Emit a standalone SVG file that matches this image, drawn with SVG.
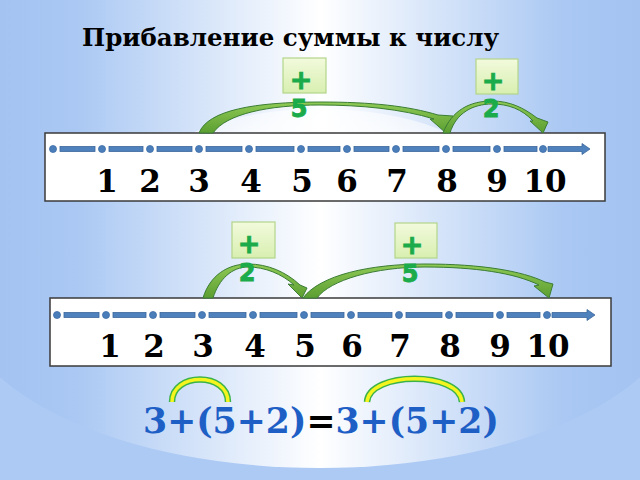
<svg xmlns="http://www.w3.org/2000/svg" width="640" height="480" viewBox="0 0 640 480">
<defs>
<linearGradient id="bg" gradientUnits="userSpaceOnUse" x1="0" y1="0" x2="640" y2="0">
<stop offset="0" stop-color="#a4c3f1"/>
<stop offset="0.12" stop-color="#aac8f3"/>
<stop offset="0.5" stop-color="#ffffff"/>
<stop offset="0.88" stop-color="#aac8f3"/>
<stop offset="1" stop-color="#a4c3f1"/>
</linearGradient>
<radialGradient id="sheen" cx="0.5" cy="0.5" r="0.5">
<stop offset="0" stop-color="#ffffff" stop-opacity="0.95"/>
<stop offset="0.8" stop-color="#ffffff" stop-opacity="0.7"/>
<stop offset="1" stop-color="#ffffff" stop-opacity="0.55"/>
</radialGradient>
<clipPath id="topclip"><rect x="0" y="0" width="640" height="134"/></clipPath>
<clipPath id="botclip"><rect x="0" y="330" width="640" height="150"/></clipPath>
<linearGradient id="arrowFill" x1="0" y1="0" x2="0" y2="1">
<stop offset="0" stop-color="#8fca55"/>
<stop offset="1" stop-color="#5c9e32"/>
</linearGradient>
<linearGradient id="badgeFill" x1="0" y1="0" x2="0" y2="1">
<stop offset="0" stop-color="#f2fadc"/>
<stop offset="1" stop-color="#d8efb0"/>
</linearGradient>
</defs>
<style>
.box{fill:#ffffff;stroke:#3a3a3a;stroke-width:1.5}
.dot{fill:#4a7ebb;stroke:#3d6ca6;stroke-width:0.8}
.bar{fill:#4f81bd;stroke:#3b679c;stroke-width:0.8}
.num{font-family:"DejaVu Serif","Liberation Serif",serif;font-weight:bold;font-size:31px;fill:#000;text-anchor:middle}
.title{font-family:"DejaVu Serif","Liberation Serif",serif;font-weight:bold;font-size:24.5px;fill:#000}
.badge{fill:url(#badgeFill);stroke:#b3d58a;stroke-width:1.2}
.blbl{font-family:"DejaVu Sans","Liberation Sans",sans-serif;font-weight:bold;font-size:24px;fill:#1bab4a;stroke:#1bab4a;stroke-width:0.9;text-anchor:middle}
.pl{font-size:27px}
.arc{fill:url(#arrowFill);stroke:#3b7d34;stroke-width:1;stroke-linejoin:round}
.yo{fill:none;stroke:#3bb34a;stroke-width:6.5}
.yi{fill:none;stroke:#f4f41e;stroke-width:3.5}
.f{font-family:"DejaVu Serif","Liberation Serif",serif;font-weight:bold;font-size:34.7px}
</style>
<g id="background">
<rect x="0" y="0" width="640" height="480" fill="url(#bg)"/>
<rect x="0" y="378" width="640" height="102" fill="#adcaf5"/>
<ellipse cx="320" cy="300" rx="360" ry="168" fill="url(#bg)" clip-path="url(#botclip)"/>
<ellipse cx="320" cy="175" rx="165" ry="66" fill="url(#sheen)" clip-path="url(#topclip)"/>
</g>
<g id="title">
<text class="title" x="82" y="46">Прибавление суммы к числу</text>
</g>
<g id="numberline-top">
<rect class="box" x="45" y="133" width="560" height="68"/>
<rect class="bar" x="60" y="146.5" width="35" height="5"/>
<rect class="bar" x="109" y="146.5" width="34" height="5"/>
<rect class="bar" x="157" y="146.5" width="35" height="5"/>
<rect class="bar" x="206" y="146.5" width="36" height="5"/>
<rect class="bar" x="256" y="146.5" width="38" height="5"/>
<rect class="bar" x="308" y="146.5" width="32" height="5"/>
<rect class="bar" x="354" y="146.5" width="35" height="5"/>
<rect class="bar" x="403" y="146.5" width="36" height="5"/>
<rect class="bar" x="453" y="146.5" width="37" height="5"/>
<rect class="bar" x="504" y="146.5" width="33" height="5"/>
<path class="bar" d="M548,146.5 H582 V143.5 L590,149 L582,154.5 V151.5 H548 Z"/>
<circle class="dot" cx="53" cy="149" r="3.5"/>
<circle class="dot" cx="102" cy="149" r="3.5"/>
<circle class="dot" cx="150" cy="149" r="3.5"/>
<circle class="dot" cx="199" cy="149" r="3.5"/>
<circle class="dot" cx="249" cy="149" r="3.5"/>
<circle class="dot" cx="301" cy="149" r="3.5"/>
<circle class="dot" cx="347" cy="149" r="3.5"/>
<circle class="dot" cx="396" cy="149" r="3.5"/>
<circle class="dot" cx="446" cy="149" r="3.5"/>
<circle class="dot" cx="497" cy="149" r="3.5"/>
<circle class="dot" cx="543" cy="149" r="3.5"/>
<text class="num" x="107" y="192">1</text>
<text class="num" x="150" y="192">2</text>
<text class="num" x="199" y="192">3</text>
<text class="num" x="251" y="192">4</text>
<text class="num" x="302" y="192">5</text>
<text class="num" x="347" y="192">6</text>
<text class="num" x="397" y="192">7</text>
<text class="num" x="447" y="192">8</text>
<text class="num" x="497" y="192">9</text>
<text class="num" x="545" y="192">10</text>
</g>
<g id="numberline-bottom">
<rect class="box" x="50" y="298" width="561" height="68"/>
<rect class="bar" x="64" y="312.5" width="35" height="5"/>
<rect class="bar" x="113" y="312.5" width="33" height="5"/>
<rect class="bar" x="160" y="312.5" width="35" height="5"/>
<rect class="bar" x="209" y="312.5" width="37" height="5"/>
<rect class="bar" x="260" y="312.5" width="37" height="5"/>
<rect class="bar" x="311" y="312.5" width="33" height="5"/>
<rect class="bar" x="358" y="312.5" width="34" height="5"/>
<rect class="bar" x="406" y="312.5" width="36" height="5"/>
<rect class="bar" x="456" y="312.5" width="37" height="5"/>
<rect class="bar" x="507" y="312.5" width="33" height="5"/>
<path class="bar" d="M552,312.5 H587 V309.5 L595,315 L587,320.5 V317.5 H552 Z"/>
<circle class="dot" cx="57" cy="315" r="3.5"/>
<circle class="dot" cx="106" cy="315" r="3.5"/>
<circle class="dot" cx="153" cy="315" r="3.5"/>
<circle class="dot" cx="202" cy="315" r="3.5"/>
<circle class="dot" cx="253" cy="315" r="3.5"/>
<circle class="dot" cx="304" cy="315" r="3.5"/>
<circle class="dot" cx="351" cy="315" r="3.5"/>
<circle class="dot" cx="399" cy="315" r="3.5"/>
<circle class="dot" cx="449" cy="315" r="3.5"/>
<circle class="dot" cx="500" cy="315" r="3.5"/>
<circle class="dot" cx="547" cy="315" r="3.5"/>
<text class="num" x="110" y="357">1</text>
<text class="num" x="154" y="357">2</text>
<text class="num" x="203" y="357">3</text>
<text class="num" x="255" y="357">4</text>
<text class="num" x="305" y="357">5</text>
<text class="num" x="352" y="357">6</text>
<text class="num" x="400" y="357">7</text>
<text class="num" x="450" y="357">8</text>
<text class="num" x="500" y="357">9</text>
<text class="num" x="548" y="357">10</text>
</g>
<g id="connectors">
<path class="arc" d="M199,133 C208,110 255,102 320,102 C372,102 408,106 438,115 L453,116 L446,133 L430,119 L434,119 C402,109 360,105 320,105 C268,105 226,114 213,133 Z"/>
<path class="arc" d="M443,133 C452,110 470,101 492,101 C510,101 524,108 537,118 L548,122 L543,133 L530,121 L533,121 C522,109 508,104 492,104 C473,104 456,113 450,133 Z"/>
<path class="arc" d="M203,298 C210,275 228,264 248,264 C268,264 286,272 300,285 L307,288 L302,298 L288,284 L294,285 C282,274 265,267 248,267 C232,267 219,279 213,298 Z"/>
<path class="arc" d="M303,298 C320,275 370,264 425,264 C482,264 522,271 545,282 L553,284 L549,298 L534,286 L539,285 C515,273 475,267 425,267 C375,267 330,280 317,298 Z"/>
<path class="yo" d="M172,402 C172,372 228,372 228,402"/>
<path class="yi" d="M172,402 C172,372 228,372 228,402"/>
<path class="yo" d="M367,402 C369,371 460,371 462,402"/>
<path class="yi" d="M367,402 C369,371 460,371 462,402"/>
</g>
<g id="badge-top-plus5">
<rect class="badge" x="283" y="58" width="43" height="35"/>
<text class="blbl"><tspan class="pl" x="301" y="89">+</tspan><tspan x="299" y="117">5</tspan></text>
</g>
<g id="badge-top-plus2">
<rect class="badge" x="476" y="59" width="42" height="35"/>
<text class="blbl"><tspan class="pl" x="493" y="90">+</tspan><tspan x="491" y="117">2</tspan></text>
</g>
<g id="badge-bottom-plus2">
<rect class="badge" x="232" y="222" width="43" height="36"/>
<text class="blbl"><tspan class="pl" x="249" y="253">+</tspan><tspan x="247" y="281">2</tspan></text>
</g>
<g id="badge-bottom-plus5">
<rect class="badge" x="395" y="223" width="42" height="35"/>
<text class="blbl"><tspan class="pl" x="412" y="254">+</tspan><tspan x="410" y="282">5</tspan></text>
</g>
<g id="formula">
<text class="f" x="143" y="433"><tspan fill="#1e5fc6">3+(5+2)</tspan><tspan fill="#000000">=</tspan><tspan fill="#1e5fc6">3+(5+2)</tspan></text>
</g>
</svg>
